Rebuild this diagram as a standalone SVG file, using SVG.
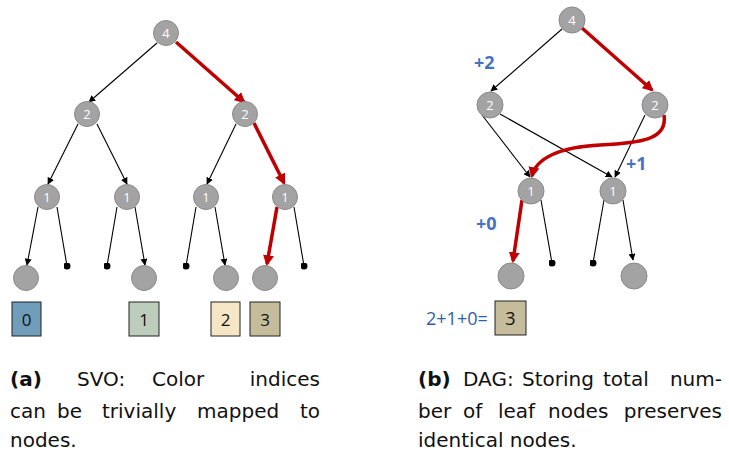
<svg xmlns="http://www.w3.org/2000/svg" width="729" height="455" viewBox="0 0 729 455">
  <defs>
    <marker id="ah" viewBox="0 0 10 10" refX="9" refY="5" markerWidth="7" markerHeight="7" markerUnits="userSpaceOnUse" orient="auto">
      <path d="M0,0 L10,5 L0,10 Z" fill="#000"/>
    </marker>
    <marker id="ahr" viewBox="0 0 10 10" refX="8" refY="5" markerWidth="11" markerHeight="11" markerUnits="userSpaceOnUse" orient="auto">
      <path d="M0,0 L10,5 L0,10 Z" fill="#c00000"/>
    </marker>
    <marker id="dot" viewBox="0 0 10 10" refX="5" refY="5" markerWidth="7" markerHeight="7" markerUnits="userSpaceOnUse">
      <circle cx="5" cy="5" r="5" fill="#000"/>
    </marker>
  </defs>
  <style>
    .node { fill: #a3a3a3; stroke: #8a8a8a; stroke-width: 1; }
    .nt { font-family: "Open Sans", "Liberation Sans", sans-serif; font-size: 13px; fill: #fff; text-anchor: middle; dominant-baseline: central; }
    .e { stroke: #000; stroke-width: 1.1; fill: none; marker-end: url(#ah); }
    .d { stroke: #000; stroke-width: 1.1; fill: none; marker-end: url(#dot); }
    .r { stroke: #c00000; stroke-width: 3.5; fill: none; marker-end: url(#ahr); }
    .box { stroke: #222; stroke-width: 1; }
    .bt { font-family: "Open Sans", "Liberation Sans", sans-serif; font-size: 17px; fill: #111; text-anchor: middle; }
    .plus { font-family: "Open Sans", "Liberation Sans", sans-serif; font-size: 18px; font-weight: bold; fill: #4472c4; }
    .sum { font-family: "Open Sans", "Liberation Sans", sans-serif; font-size: 18px; fill: #2f5ea8; }
    .cap { font-family: "DejaVu Sans", "Liberation Sans", sans-serif; font-size: 20px; fill: #111; }
    .capb { font-weight: bold; }
  </style>

  <!-- left tree: sparse voxel octree -->
  <g id="svo-connectors">
    <line class="e" x1="157" y1="43" x2="89" y2="102"/>
    <line class="r" x1="176" y1="42" x2="244" y2="102"/>
    <line class="e" x1="78" y1="124" x2="48" y2="184"/>
    <line class="e" x1="97" y1="124" x2="127" y2="184"/>
    <line class="e" x1="236" y1="124" x2="207" y2="184"/>
    <line class="r" x1="254" y1="123" x2="284" y2="183"/>
    <line class="e" x1="38" y1="207" x2="27" y2="265"/>
    <line class="d" x1="57" y1="207" x2="67" y2="266"/>
    <line class="d" x1="117" y1="207" x2="107" y2="266"/>
    <line class="e" x1="135" y1="207" x2="145" y2="265"/>
    <line class="d" x1="196" y1="207" x2="186" y2="266"/>
    <line class="e" x1="215" y1="207" x2="225" y2="265"/>
    <line class="r" x1="277" y1="207" x2="267" y2="264"/>
    <line class="d" x1="294" y1="207" x2="304" y2="266"/>
  </g>
  <g id="svo-root"><circle class="node" cx="166" cy="33" r="12.5"/><text class="nt" x="166" y="33">4</text></g>
  <g id="svo-n2a"><circle class="node" cx="87" cy="114" r="12.5"/><text class="nt" x="87" y="114">2</text></g>
  <g id="svo-n2b"><circle class="node" cx="245" cy="114" r="12.5"/><text class="nt" x="245" y="114">2</text></g>
  <g id="svo-n1a"><circle class="node" cx="47" cy="197" r="12.5"/><text class="nt" x="47" y="197">1</text></g>
  <g id="svo-n1b"><circle class="node" cx="127" cy="197" r="12.5"/><text class="nt" x="127" y="197">1</text></g>
  <g id="svo-n1c"><circle class="node" cx="206" cy="197" r="12.5"/><text class="nt" x="206" y="197">1</text></g>
  <g id="svo-n1d"><circle class="node" cx="285" cy="197" r="12.5"/><text class="nt" x="285" y="197">1</text></g>
  <g id="svo-leaf0"><circle class="node" cx="26" cy="278" r="12.5"/></g>
  <g id="svo-leaf1"><circle class="node" cx="144" cy="278" r="12.5"/></g>
  <g id="svo-leaf2"><circle class="node" cx="226" cy="278" r="12.5"/></g>
  <g id="svo-leaf3"><circle class="node" cx="265" cy="278" r="12.5"/></g>

  <g id="svo-colors">
    <rect class="box" x="12" y="302" width="29" height="34" fill="#6f9dba"/>
    <text class="bt" x="26.5" y="325.5">0</text>
    <rect class="box" x="129" y="302" width="30" height="34" fill="#bccebb"/>
    <text class="bt" x="144" y="325.5">1</text>
    <rect class="box" x="211" y="302" width="29" height="34" fill="#f5e6c5"/>
    <text class="bt" x="225.5" y="325.5">2</text>
    <rect class="box" x="250" y="302" width="30" height="34" fill="#c5bc9b"/>
    <text class="bt" x="265" y="325.5">3</text>
  </g>

  <!-- right graph: directed acyclic graph -->
  <g id="dag-connectors">
    <line class="e" x1="562" y1="29" x2="491" y2="91"/>
    <line class="r" x1="582" y1="28" x2="652" y2="90"/>
    <line class="e" x1="482" y1="115" x2="530" y2="177"/>
    <line class="e" x1="500" y1="114" x2="612" y2="177"/>
    <line class="e" x1="645" y1="115" x2="615" y2="177"/>
    <path class="r" d="M664,115 C668,140 640,143 600,145 C560,147 536,158 532,176"/>
    <line class="r" x1="522" y1="200" x2="513" y2="261"/>
    <line class="d" x1="541" y1="200" x2="552" y2="263"/>
    <line class="d" x1="604" y1="200" x2="593" y2="263"/>
    <line class="e" x1="623" y1="200" x2="633" y2="260"/>
  </g>
  <g id="dag-root"><circle class="node" cx="572" cy="20" r="13"/><text class="nt" x="572" y="20">4</text></g>
  <g id="dag-n2a"><circle class="node" cx="490" cy="105" r="13"/><text class="nt" x="490" y="105">2</text></g>
  <g id="dag-n2b"><circle class="node" cx="655" cy="105" r="13"/><text class="nt" x="655" y="105">2</text></g>
  <g id="dag-n1a"><circle class="node" cx="531" cy="191" r="13"/><text class="nt" x="531" y="191">1</text></g>
  <g id="dag-n1b"><circle class="node" cx="613" cy="191" r="13"/><text class="nt" x="613" y="191">1</text></g>
  <g id="dag-leaf0"><circle class="node" cx="511" cy="276" r="13"/></g>
  <g id="dag-leaf1"><circle class="node" cx="634" cy="276" r="13"/></g>

  <g id="dag-labels">
    <text class="plus" x="474" y="69">+2</text>
    <text class="plus" x="626" y="170">+1</text>
    <text class="plus" x="476" y="230">+0</text>
    <text class="sum" x="426" y="325">2+1+0=</text>
    <rect class="box" x="495" y="301" width="31" height="34" fill="#c5bc9b"/>
    <text class="bt" x="510.5" y="325" style="font-size:18px">3</text>
  </g>

  <!-- captions -->
  <g id="caption-a" class="cap">
    <text x="10" y="386" class="capb">(a)</text>
    <text x="77" y="386">SVO:</text>
    <text x="152" y="386">Color</text>
    <text x="320" y="386" text-anchor="end">indices</text>
    <text x="10" y="418">can</text>
    <text x="57" y="418">be</text>
    <text x="102" y="418">trivially</text>
    <text x="197" y="418">mapped</text>
    <text x="320" y="418" text-anchor="end">to</text>
    <text x="10" y="447">nodes.</text>
  </g>
  <g id="caption-b" class="cap">
    <text x="418" y="386" class="capb">(b)</text>
    <text x="463" y="386">DAG:</text>
    <text x="522" y="386">Storing</text>
    <text x="603" y="386">total</text>
    <text x="722" y="386" text-anchor="end">num-</text>
    <text x="418" y="418">ber</text>
    <text x="463" y="418">of</text>
    <text x="498" y="418">leaf</text>
    <text x="548" y="418">nodes</text>
    <text x="722" y="418" text-anchor="end">preserves</text>
    <text x="418" y="447">identical nodes.</text>
  </g>
</svg>
